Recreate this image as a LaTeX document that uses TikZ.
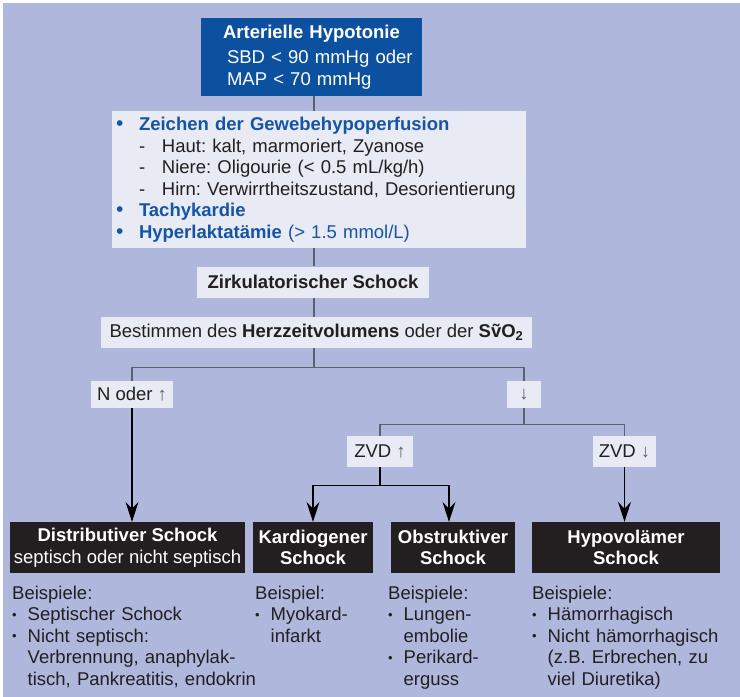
\documentclass[tikz,border=0pt]{standalone}
\usepackage{fontspec}
\setmainfont{Liberation Sans}
\usetikzlibrary{arrows.meta}
\frenchspacing

\definecolor{bgblue}{RGB}{175,183,220}
\definecolor{boxlight}{RGB}{232,234,244}
\definecolor{boxblue}{RGB}{12,80,160}
\definecolor{textblue}{RGB}{22,84,166}
\definecolor{boxdark}{RGB}{35,31,32}
\definecolor{linegray}{RGB}{92,96,112}

\newcommand{\bodyfont}{\fontsize{18.5}{21.5}\selectfont}
\newcommand{\smallbul}{\makebox[15.5pt][l]{\raisebox{1.5pt}{\fontsize{13}{13}\selectfont\textbullet}}}
\newcommand{\indentline}{\hspace*{15.5pt}}
\newcommand{\bigbul}{\makebox[23pt][l]{\fontsize{21}{21}\selectfont\textbullet}}
\newcommand{\dashline}{\hspace*{23pt}\makebox[23pt][l]{-}}

\begin{document}
\begin{tikzpicture}[x=1pt,y=-1pt]

\tikzset{%
  every node/.style={font=\bodyfont,text=boxdark,inner sep=0pt},
  bluebox/.style={fill=boxblue,text=white},
  lightbox/.style={fill=boxlight,align=center},
  darkbox/.style={fill=boxdark,text=white,align=center,minimum height=51pt,inner xsep=2pt},
  sample/.style={anchor=base west,align=left,text width=300pt},
}

\useasboundingbox (0,0) rectangle (740,697);
\fill[bgblue] (3,3) rectangle (740,697);

% main column
\node[bluebox,minimum width=221pt,minimum height=78pt,text width=221pt,align=left] (hypotonie) at (311.5,57) {%
  \makebox[221pt]{\textbf{Arterielle Hypotonie}}\\[3.5pt]
  \hspace*{26pt}SBD < 90 mmHg oder\\
  \hspace*{26pt}MAP < 70 mmHg};

\node[lightbox,minimum width=414pt,minimum height=137pt,text width=406pt,inner xsep=4pt,align=left] (zeichen) at (319,179.5) {%
  {\color{textblue}\bigbul\textbf{Zeichen der Gewebehypoperfusion}}\\
  \dashline Haut: kalt, marmoriert, Zyanose\\
  \dashline Niere: Oligourie (< 0.5 mL/kg/h)\\
  \dashline Hirn: Verwirrtheitszustand, Desorientierung\\
  {\color{textblue}\bigbul\textbf{Tachykardie}}\\
  {\color{textblue}\bigbul\textbf{Hyperlaktatämie} (> 1.5 mmol/L)}};

\node[lightbox,minimum width=232pt,minimum height=31pt] (zirkulation) at (313,282) {\textbf{Zirkulatorischer Schock}};

\node[lightbox,minimum width=431pt,minimum height=31pt] (herz) at (316.5,332.5) {Bestimmen des \textbf{Herzzeitvolumens} oder der \textbf{S\~{v}O\textsubscript{2}}};

% branch labels
\node[lightbox,minimum width=82pt,minimum height=27pt] (noder) at (132,394.5) {N oder {\color{linegray}↑}};
\node[lightbox,minimum width=34pt,minimum height=27pt] (down) at (524,394.5) {\color{linegray}↓};
\node[lightbox,minimum width=66pt,minimum height=31pt] (zvdup) at (380,451.5) {ZVD {\color{linegray}↑}};
\node[lightbox,minimum width=63pt,minimum height=31pt] (zvddown) at (624.5,451.5) {ZVD {\color{linegray}↓}};

% shock types
\node[darkbox,minimum width=235pt] (distributiv) at (127.5,547.5) {\textbf{Distributiver Schock}\\septisch oder nicht septisch};
\node[darkbox,minimum width=120pt] (kardiogen) at (313,547.5) {\textbf{Kardiogener}\\\textbf{Schock}};
\node[darkbox,minimum width=124pt] (obstruktiv) at (453,547.5) {\textbf{Obstruktiver}\\\textbf{Schock}};
\node[darkbox,minimum width=188pt] (hypovol) at (626,547.5) {\textbf{Hypovolämer}\\\textbf{Schock}};

% examples
\node[sample] (bspdistr) at (12,599) {Beispiele:\\
  \smallbul Septischer Schock\\
  \smallbul Nicht septisch:\\
  \indentline Verbrennung, anaphylak-\\
  \indentline tisch, Pankreatitis, endokrin};
\node[sample] (bspkardio) at (255,599) {Beispiel:\\
  \smallbul Myokard-\\
  \indentline infarkt};
\node[sample] (bspobstr) at (388,599) {Beispiele:\\
  \smallbul Lungen-\\
  \indentline embolie\\
  \smallbul Perikard-\\
  \indentline erguss};
\node[sample] (bsphypo) at (532,599) {Beispiele:\\
  \smallbul Hämorrhagisch\\
  \smallbul Nicht hämorrhagisch\\
  \indentline (z.B. Erbrechen, zu\\
  \indentline viel Diuretika)};

% connectors
\tikzset{link/.style={draw=linegray,line width=1.3pt}}
\tikzset{flow/.style={draw=black,line width=1.1pt,-{Stealth[length=20pt,width=13pt,inset=7pt]}}}

\coordinate (axis) at (314,0);
\draw[link] (hypotonie.south -| axis) -- (zeichen.north -| axis);
\draw[link] (zeichen.south -| axis) -- (zirkulation.north -| axis);
\draw[link] (zirkulation.south -| axis) -- (herz.north -| axis);
\draw[link] (herz.south -| axis) -- ++(0,19) -| (noder.north);
\draw[link] (herz.south -| axis) -- ++(0,19) -| (down.north);
\draw[link] (down.south) -- ++(0,16) -| (zvdup.north);
\draw[link] (down.south) -- ++(0,16) -| (zvddown.north);

\draw[flow] (noder.south) -- (noder.south |- distributiv.north);
\draw[flow] (zvdup.south) -- ++(0,18) -| (kardiogen.north);
\draw[flow] (zvdup.south) -- ++(0,18) -| ([xshift=-4pt]obstruktiv.north);
\draw[flow] (zvddown.south) -- (zvddown.south |- hypovol.north);

\end{tikzpicture}
\end{document}
